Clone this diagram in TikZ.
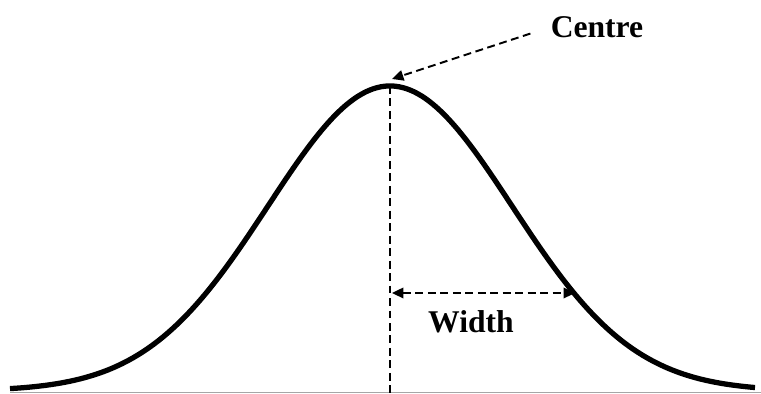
\documentclass[tikz,border=0pt]{standalone}
\usepackage{fontspec}
\setmainfont{Liberation Serif}
\usepackage{tikz}
\usetikzlibrary{arrows.meta}

\begin{document}
\begin{tikzpicture}[x=0.02cm, y=0.02cm,
  curve/.style={line width=3pt, line join=round},
  guide/.style={line width=1.1pt, dash pattern=on 4.5pt off 2.6pt},
  tip/.style={-{Triangle[length=6.5pt, width=6pt]}},
  lbl/.style={font=\fontsize{18}{21}\selectfont\bfseries, inner sep=0pt}]

\useasboundingbox (0,0) rectangle (761,394);

% baseline
\draw[gray!70, line width=0.6pt] (10,1.5) -- (761,1.5);

% gaussian profile
\draw[curve]
  plot[domain=10:755, samples=200, smooth]
  (\x, {3 + 305*exp(-((\x-390)/122)^2/2)});

% named points
\coordinate (peak) at (392,315);
\coordinate (top) at (390,308);
\coordinate (foot) at (390,0);
\coordinate (wl) at (392,101);
\coordinate (wr) at (575,101);

% centre line
\draw[guide] (top) -- (foot);

% labels
\node[lbl] (centre) at (597,367) {Centre};
\node[lbl] (width) at (471,72) {Width};

\draw[guide, tip, shorten <=12pt] (centre.west) -- (peak);
\draw[guide, {Triangle[length=6.5pt, width=6pt]}-{Triangle[length=6.5pt, width=6pt]}]
  (wl) -- (wr);

\end{tikzpicture}
\end{document}
